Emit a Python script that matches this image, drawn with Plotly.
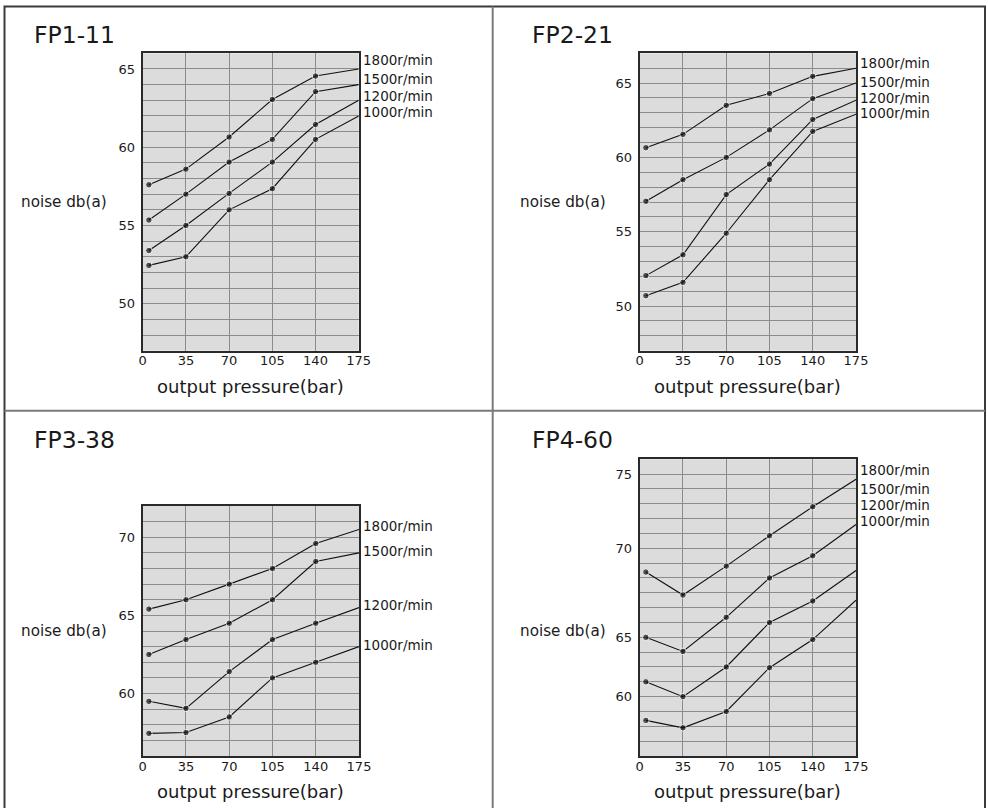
import plotly.graph_objects as go

# ---------------- data ----------------
pressure = [5, 35, 70, 105, 140, 175]
x_ticks = [0, 35, 70, 105, 140, 175]
speeds = ["1800r/min", "1500r/min", "1200r/min", "1000r/min"]

panel_titles = ["FP1-11", "FP2-21", "FP3-38", "FP4-60"]

fp1_1800 = [57.6, 58.6, 60.65, 63.05, 64.55, 65.0]
fp1_1500 = [55.35, 57.0, 59.05, 60.5, 63.55, 64.0]
fp1_1200 = [53.4, 55.0, 57.05, 59.05, 61.45, 63.0]
fp1_1000 = [52.45, 53.0, 56.0, 57.35, 60.5, 62.0]
fp1_label_y = [65.55, 64.35, 63.3, 62.25]
fp1_tickvals = [50, 55, 60, 65]
fp1_ticktext = ["50", "55", "60", "65"]
fp1_range = [47, 66]

fp2_1800 = [60.65, 61.55, 63.5, 64.3, 65.45, 66.0]
fp2_1500 = [57.05, 58.5, 60.0, 61.85, 63.95, 65.0]
fp2_1200 = [52.05, 53.45, 57.5, 59.55, 62.55, 63.85]
fp2_1000 = [50.7, 51.6, 54.9, 58.5, 61.75, 62.9]
fp2_label_y = [66.35, 65.05, 64.0, 63.0]
fp2_tickvals = [50, 55, 60, 65]
fp2_ticktext = ["50", "55", "60", "65"]
fp2_range = [47, 67]

fp3_1800 = [65.4, 66.0, 67.0, 68.0, 69.6, 70.5]
fp3_1500 = [62.5, 63.45, 64.5, 66.0, 68.45, 69.0]
fp3_1200 = [59.5, 59.05, 61.4, 63.45, 64.5, 65.5]
fp3_1000 = [57.45, 57.5, 58.5, 61.0, 62.0, 63.0]
fp3_label_y = [70.7, 69.1, 65.65, 63.1]
fp3_tickvals = [60, 65, 70]
fp3_ticktext = ["60", "65", "70"]
fp3_range = [56, 72]

fp4_1800 = [68.4, 66.85, 68.8, 70.85, 72.8, 74.65]
fp4_1500 = [64.0, 63.05, 65.35, 68.0, 69.5, 71.6]
fp4_1200 = [61.0, 60.0, 62.0, 65.0, 66.45, 68.5]
fp4_1000 = [58.4, 57.9, 59.0, 61.95, 63.85, 66.5]
fp4_label_y = [75.25, 74.0, 72.95, 71.85]
fp4_tickvals = [60, 64, 70, 75]
fp4_ticktext = ["60", "65", "70", "75"]
fp4_range = [56, 76]

# ---------------- layout helpers ----------------
W, H = 988, 808
FONT = "DejaVu Sans, Verdana, sans-serif"
TXT = "#1a1a1a"


def px_x(p):
    return p / W


def px_y(p):
    return 1 - p / H


panels = [
    dict(series=[fp1_1800, fp1_1500, fp1_1200, fp1_1000], label_y=fp1_label_y,
         tickvals=fp1_tickvals, ticktext=fp1_ticktext, yrange=fp1_range,
         xdom=(142.7, 358.7), ydom=(53.3, 350.7), title_pos=(32, 35), ylab_pos=(19, 201.7)),
    dict(series=[fp2_1800, fp2_1500, fp2_1200, fp2_1000], label_y=fp2_label_y,
         tickvals=fp2_tickvals, ticktext=fp2_ticktext, yrange=fp2_range,
         xdom=(639.7, 856.0), ydom=(53.3, 350.7), title_pos=(529.7, 35), ylab_pos=(518, 201.7)),
    dict(series=[fp3_1800, fp3_1500, fp3_1200, fp3_1000], label_y=fp3_label_y,
         tickvals=fp3_tickvals, ticktext=fp3_ticktext, yrange=fp3_range,
         xdom=(142.7, 359.0), ydom=(506.0, 756.0), title_pos=(32, 440), ylab_pos=(19, 631)),
    dict(series=[fp4_1800, fp4_1500, fp4_1200, fp4_1000], label_y=fp4_label_y,
         tickvals=fp4_tickvals, ticktext=fp4_ticktext, yrange=fp4_range,
         xdom=(639.7, 856.0), ydom=(459.3, 756.0), title_pos=(529.7, 440), ylab_pos=(518, 631)),
]

fig = go.Figure()
annotations = []
layout_axes = {}

marker_sizes = [6.5, 6.5, 6.5, 6.5, 6.5, 0]

for i, p in enumerate(panels):
    n = i + 1
    xa = "x" if n == 1 else f"x{n}"
    ya = "y" if n == 1 else f"y{n}"
    for s, name in zip(p["series"], speeds):
        fig.add_trace(go.Scatter(
            x=pressure, y=s, mode="lines+markers", name=name,
            xaxis=xa, yaxis=ya, showlegend=False,
            line=dict(color="#111111", width=1.1),
            marker=dict(color="#111111", size=marker_sizes),
            hoverinfo="x+y+name",
        ))
    for ly, name in zip(p["label_y"], speeds):
        annotations.append(dict(
            x=175, y=ly, xref=xa, yref=ya, text=name, showarrow=False,
            xanchor="left", yanchor="middle", xshift=2,
            font=dict(family=FONT, size=13.5, color=TXT),
        ))
    # panel title
    annotations.append(dict(
        x=px_x(p["title_pos"][0]), y=px_y(p["title_pos"][1]), xref="paper", yref="paper",
        text=panel_titles[i], showarrow=False, xanchor="left", yanchor="middle",
        font=dict(family=FONT, size=23.5, color=TXT),
    ))
    # y-axis title
    annotations.append(dict(
        x=px_x(p["ylab_pos"][0]), y=px_y(p["ylab_pos"][1]), xref="paper", yref="paper",
        text="noise db(a)", showarrow=False, xanchor="left", yanchor="middle",
        font=dict(family=FONT, size=15.2, color=TXT),
    ))
    # x-axis title
    xc = (p["xdom"][0] + p["xdom"][1]) / 2
    annotations.append(dict(
        x=px_x(xc), y=px_y(p["ydom"][1] + 35.5), xref="paper", yref="paper",
        text="output pressure(bar)", showarrow=False, xanchor="center", yanchor="middle",
        font=dict(family=FONT, size=18, color=TXT),
    ))

    xkey = "xaxis" if n == 1 else f"xaxis{n}"
    ykey = "yaxis" if n == 1 else f"yaxis{n}"
    layout_axes[xkey] = dict(
        domain=[px_x(p["xdom"][0]), px_x(p["xdom"][1])],
        anchor=ya, range=[0, 175], tickvals=x_ticks, automargin=False,
        showgrid=True, gridcolor="#8c8c8c", gridwidth=1,
        showline=True, linecolor="#2a2a2a", linewidth=2, mirror=True,
        ticks="", zeroline=False,
        tickfont=dict(family=FONT, size=13, color=TXT), fixedrange=True,
    )
    layout_axes[ykey] = dict(
        domain=[px_y(p["ydom"][1]), px_y(p["ydom"][0])],
        anchor=xa, range=p["yrange"], tickvals=p["tickvals"], ticktext=p["ticktext"],
        automargin=False,
        showgrid=True, gridcolor="#8c8c8c", gridwidth=1,
        minor=dict(dtick=1, tick0=0, showgrid=True, gridcolor="#8c8c8c", gridwidth=1, ticks=""),
        showline=True, linecolor="#2a2a2a", linewidth=2, mirror=True,
        ticks="", zeroline=False, ticklabelstandoff=3,
        tickfont=dict(family=FONT, size=13, color=TXT), fixedrange=True,
    )

shapes = [
    # outer frame (bottom runs off the page)
    dict(type="rect", xref="paper", yref="paper",
         x0=px_x(4.5), x1=px_x(985), y0=px_y(812), y1=px_y(6.5),
         line=dict(color="#3a3a3a", width=2)),
    # dividers
    dict(type="line", xref="paper", yref="paper",
         x0=px_x(492.7), x1=px_x(492.7), y0=px_y(812), y1=px_y(6.5),
         line=dict(color="#7a7a7a", width=2)),
    dict(type="line", xref="paper", yref="paper",
         x0=px_x(4.5), x1=px_x(985), y0=px_y(410.7), y1=px_y(410.7),
         line=dict(color="#7a7a7a", width=2)),
]

fig.update_layout(
    width=W, height=H, autosize=False,
    margin=dict(l=0, r=0, t=0, b=0, pad=0, autoexpand=False),
    paper_bgcolor="white",
    plot_bgcolor="#dcdcdc",
    annotations=annotations,
    shapes=shapes,
    showlegend=False,
    font=dict(family=FONT, color=TXT),
    **layout_axes,
)

# pull the x tick labels a little closer to the axis, as in the reference
for n in range(1, 5):
    key = "xaxis" if n == 1 else f"xaxis{n}"
    try:
        fig.layout[key].ticklabelstandoff = -3
    except Exception:
        fig.layout[key].ticklabelstandoff = 0

fig.write_html(
    "out.html",
    config={"displayModeBar": False, "responsive": False},
    post_script=(
        "document.documentElement.style.overflow='hidden';"
        "document.body.style.margin='0';document.body.style.overflow='hidden';"
    ),
)
